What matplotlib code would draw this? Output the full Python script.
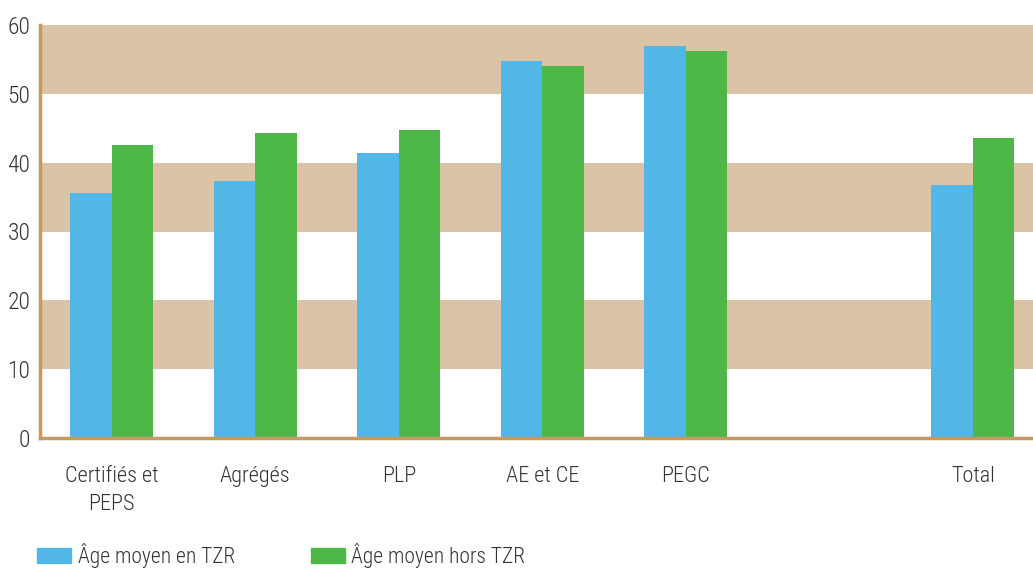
import numpy as np
import matplotlib
matplotlib.use("Agg")
import matplotlib.pyplot as plt
from matplotlib.patches import Patch

categories = ["Certifiés et\nPEPS", "Agrégés", "PLP", "AE et CE", "PEGC", "", "Total"]
age_tzr = [35.6, 37.3, 41.4, 54.8, 56.9, np.nan, 36.8]
age_hors_tzr = [42.6, 44.3, 44.7, 54.0, 56.2, np.nan, 43.6]
yticks = [0, 10, 20, 30, 40, 50, 60]

blue = "#52b6e6"
green = "#4db848"
band = "#dbc4a5"
axis_col = "#c29a62"
text_col = "#333333"

plt.rcParams['font.family'] = ['Roboto Condensed', 'Archivo Narrow', 'DejaVu Sans']
plt.rcParams['font.weight'] = 'light'

fig = plt.figure(figsize=(10.33, 5.69), dpi=100)
ax = fig.add_axes([40 / 1033, 1 - 438 / 569, 1 - 40 / 1033, (438 - 25) / 569])

# alternating horizontal bands
for lo in (10, 30, 50):
    ax.axhspan(lo, lo + 10, color=band, zorder=0, lw=0)

x = np.arange(len(categories))
w = 0.29
ax.bar(x - w / 2, age_tzr, width=w, color=blue, zorder=2)
ax.bar(x + w / 2, age_hors_tzr, width=w, color=green, zorder=2)

ax.set_xlim(-0.5, -0.5 + (1033 - 40) / 143.5)
ax.set_ylim(0, 60)
ax.set_xticks(x)
ax.set_xticklabels(categories, fontsize=16, color=text_col, linespacing=1.45)
ax.set_yticks(yticks)
ax.set_yticklabels([str(v) for v in yticks], fontsize=17, color=text_col)
ax.tick_params(length=0)
ax.tick_params(axis='x', pad=20)
ax.tick_params(axis='y', pad=7)

for s in ("top", "right"):
    ax.spines[s].set_visible(False)
for s in ("left", "bottom"):
    ax.spines[s].set_color(axis_col)
    ax.spines[s].set_linewidth(2.5)
    ax.spines[s].set_zorder(3)

handles = [Patch(color=blue, label="Âge moyen en TZR"),
           Patch(color=green, label="Âge moyen hors TZR")]
fig.legend(handles=handles, loc="lower left", bbox_to_anchor=(37 / 1033, 1 / 569),
           ncol=2, frameon=False, fontsize=15.5, handlelength=1.6, handleheight=0.75,
           handletextpad=0.3, columnspacing=3.5, borderpad=0, borderaxespad=0,
           labelcolor=text_col)

fig.savefig("out.png", dpi=100)
